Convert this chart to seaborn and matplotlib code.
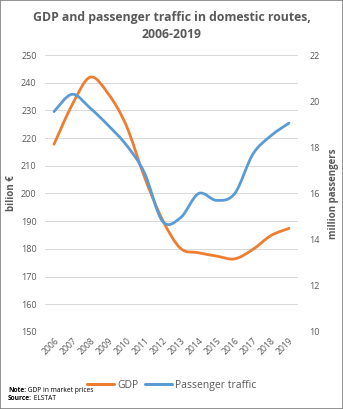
import numpy as np
import pandas as pd
import seaborn as sns
import matplotlib
matplotlib.use("Agg")
import matplotlib.pyplot as plt
from matplotlib.path import Path
from matplotlib.patches import PathPatch, Rectangle
from matplotlib.lines import Line2D

years = ["2006", "2007", "2008", "2009", "2010", "2011", "2012",
         "2013", "2014", "2015", "2016", "2017", "2018", "2019"]
gdp = [217.8, 232.0, 242.0, 236.0, 224.5, 206.0, 190.5,
       180.2, 178.6, 177.4, 176.4, 179.8, 184.8, 187.4]
passengers = [19.55, 20.3, 19.7, 18.95, 18.1, 16.9, 14.8,
              14.95, 16.0, 15.7, 16.0, 17.7, 18.5, 19.05]
left_ticks = list(range(150, 251, 10))
right_ticks = list(range(10, 23, 2))

ORANGE = "#ED7D31"
BLUE = "#5B9BD5"
GRAY = "#595959"

sns.set_theme(style="white")
plt.rcParams["font.family"] = ["Open Sans", "DejaVu Sans"]

df = pd.DataFrame({"idx": np.arange(len(years)), "year": years,
                   "gdp": gdp, "pax": passengers})

fig = plt.figure(figsize=(3.43, 4.09), dpi=100)
fig.patch.set_facecolor("white")
fig.add_artist(Rectangle((0, 0), 1, 1, transform=fig.transFigure, fill=False,
                         edgecolor="#7f7f7f", linewidth=1.2))

ax = fig.add_axes([0.1312, 0.1883, 0.7376, 0.6772])
ax2 = ax.twinx()


def smooth(ax_, x, y, color):
    P = np.column_stack([x, y]).astype(float)
    n = len(P)
    verts = [tuple(P[0])]
    codes = [Path.MOVETO]
    for i in range(n - 1):
        p0 = P[i - 1] if i > 0 else P[i]
        p3 = P[i + 2] if i + 2 < n else P[i + 1]
        c1 = P[i] + (P[i + 1] - p0) / 6.0
        c2 = P[i + 1] - (p3 - P[i]) / 6.0
        verts += [tuple(c1), tuple(c2), tuple(P[i + 1])]
        codes += [Path.CURVE4] * 3
    patch = PathPatch(Path(verts, codes), facecolor="none", edgecolor=color,
                      linewidth=2.0, capstyle="round", joinstyle="round", zorder=3)
    ax_.add_patch(patch)


# seaborn lines (set the scales), drawn visually as Excel-like smoothed curves
sns.lineplot(data=df, x="idx", y="gdp", ax=ax, color=ORANGE, linewidth=0)
sns.lineplot(data=df, x="idx", y="pax", ax=ax2, color=BLUE, linewidth=0)
for l in ax.get_lines() + ax2.get_lines():
    l.set_visible(False)
smooth(ax, df["idx"], df["gdp"], ORANGE)
smooth(ax2, df["idx"], df["pax"], BLUE)

ax.set_xlim(-0.5, len(years) - 0.5)
ax.set_ylim(150, 250)
ax2.set_ylim(10, 22)
ax.set_yticks(left_ticks)
ax2.set_yticks(right_ticks)
ax.set_xticks(df["idx"])
ax.set_xticklabels(years, rotation=45, ha="right", rotation_mode="anchor",
                   fontsize=6.2, color=GRAY)
ax.set_yticklabels([str(t) for t in left_ticks], fontsize=6.5, color=GRAY)
ax2.set_yticklabels([str(t) for t in right_ticks], fontsize=6.5, color=GRAY)
ax.tick_params(axis="both", length=0, pad=6)
ax.tick_params(axis="x", pad=3)
ax2.tick_params(axis="y", length=0, pad=8)
ax.yaxis.grid(True, color="#d9d9d9", linewidth=0.7)
ax.set_axisbelow(True)
for a in (ax, ax2):
    for s in a.spines.values():
        s.set_visible(False)
ax.set_xlabel("")
ax.set_ylabel("bilion €", fontsize=7, fontweight="bold", color=GRAY, labelpad=3)
ax2.set_ylabel("million passengers", fontsize=7, fontweight="bold", color=GRAY,
               rotation=90, labelpad=6)

fig.text(0.5, 0.958, "GDP and passenger traffic in domestic routes,",
         ha="center", va="center", fontsize=8.8, fontweight="bold", color=GRAY)
fig.text(0.5, 0.915, "2006-2019", ha="center", va="center", fontsize=8.8,
         fontweight="bold", color=GRAY)

handles = [Line2D([], [], color=ORANGE, linewidth=2.2),
           Line2D([], [], color=BLUE, linewidth=2.2)]
fig.legend(handles, ["GDP", "Passenger traffic"], loc="center",
           bbox_to_anchor=(0.5, 0.058), ncol=2, frameon=False, fontsize=7.5,
           handlelength=2.6, columnspacing=0.6, handletextpad=0.3,
           labelcolor=GRAY)

fig.canvas.draw()
renderer = fig.canvas.get_renderer()
for yy, head, rest in [(0.046, "Note:", " GDP in market prices"),
                       (0.026, "Source:", " ELSTAT")]:
    t = fig.text(0.023, yy, head, fontsize=4.8, fontweight="bold",
                 color="black", va="center")
    bb = t.get_window_extent(renderer)
    x1 = bb.x1 / fig.bbox.width
    fig.text(x1, yy, rest, fontsize=4.8, color="black", va="center")

fig.savefig("out.png", dpi=100)
